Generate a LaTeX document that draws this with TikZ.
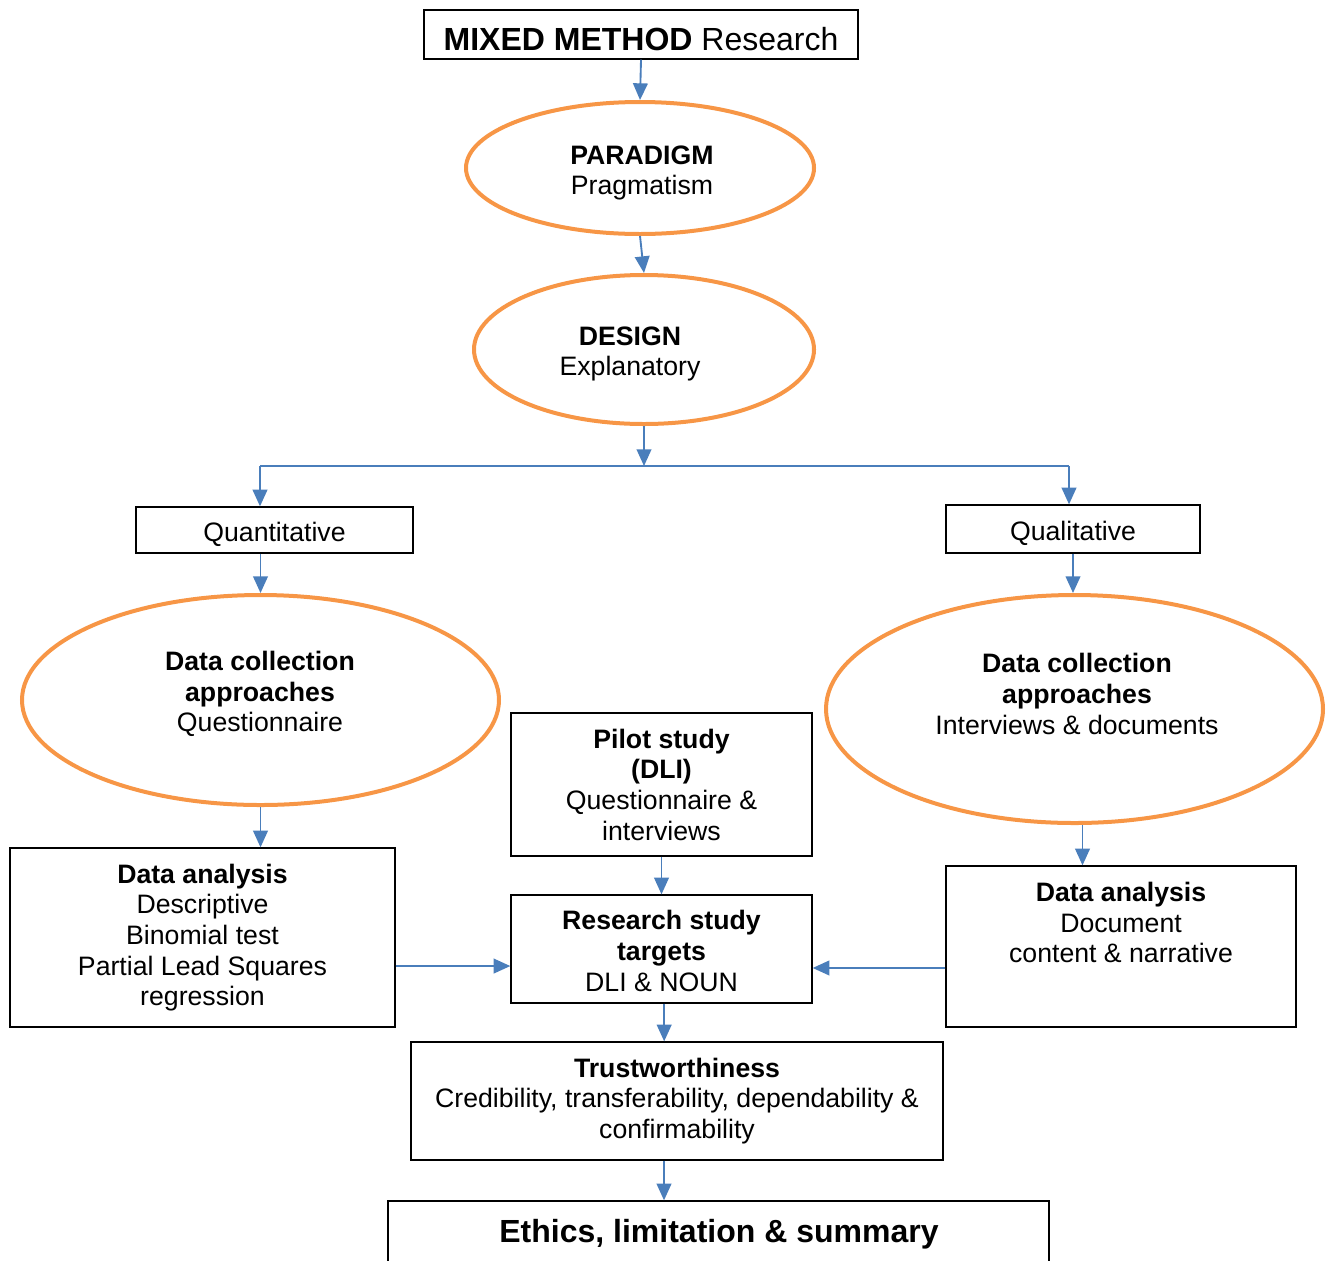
\documentclass[tikz,border=0pt]{standalone}
\usepackage{fontspec}
\setmainfont{Liberation Sans}
\usetikzlibrary{arrows.meta,shapes.geometric}
\definecolor{ovalorange}{HTML}{F79646}
\definecolor{arrblue}{HTML}{4A7EBB}
\newcommand\bodyfont{\fontsize{20}{23}\selectfont}
\newcommand\bigfont{\fontsize{24}{28}\selectfont}
\begin{document}
\begin{tikzpicture}[x=0.75pt,y=-0.75pt,
  box/.style={draw=black, line width=1pt, rectangle, inner sep=0pt, align=center, font=\bodyfont},
  oval/.style={draw=ovalorange, line width=3pt, ellipse, inner sep=0pt},
  txt/.style={align=center, font=\bodyfont, inner sep=0pt},
  arr/.style={draw=arrblue, line width=1.4pt, -{Triangle[length=12.5pt,width=11pt]}},
  branch/.style={draw=arrblue, line width=1.4pt}]
\useasboundingbox (0,0) rectangle (1333,1260);

% top of the flow
\node[box, minimum width=325.5pt, minimum height=36.75pt] (title) at (641,34.5) {};
\node[txt, font=\bigfont] (titleT) at (641,39) {\textbf{MIXED METHOD} Research};
\node[oval, minimum width=261pt, minimum height=99pt] (paradigm) at (640,168) {};
\node[txt] (paradigmT) at (642,173) {\textbf{PARADIGM}\\Pragmatism};
\node[oval, minimum width=255pt, minimum height=111.75pt] (design) at (644,349.5) {};
\node[txt] (designT) at (630,354) {\textbf{DESIGN}\\Explanatory};

% branch points
\coordinate (brL) at (260,466);
\coordinate (brR) at (1069,466);

% two strands
\node[box, minimum width=207.75pt, minimum height=34.5pt] (quant) at (274.5,530) {};
\node[txt] (quantT) at (274.5,534) {Quantitative};
\node[box, minimum width=190.5pt, minimum height=36pt] (qual) at (1073,529) {};
\node[txt] (qualT) at (1073,533) {Qualitative};

\node[oval, minimum width=357.75pt, minimum height=157.5pt] (lell) at (260.5,700) {};
\node[txt] (lellT) at (260,694) {\textbf{Data collection}\\\textbf{approaches}\\Questionnaire};
\node[oval, minimum width=372.75pt, minimum height=171pt] (rell) at (1074.5,709) {};
\node[txt] (rellT) at (1077,694) {\textbf{Data collection}\\\textbf{approaches}\\Interviews \& documents};

\node[box, minimum width=225.75pt, minimum height=107.25pt] (pilot) at (661.5,784.5)
  {\textbf{Pilot study}\\\textbf{(DLI)}\\Questionnaire \&\\interviews};
\node[box, minimum width=225.75pt, minimum height=81pt] (research) at (661.5,949) {};
\node[txt] (researchT) at (661.5,951) {\textbf{Research study}\\\textbf{targets}\\DLI \& NOUN};

\node[box, minimum width=288.75pt, minimum height=134.25pt] (lda) at (202.5,937.5)
  {\textbf{Data analysis}\\Descriptive\\Binomial test\\Partial Lead Squares\\regression};
\node[box, minimum width=262.5pt, minimum height=120.75pt] (rda) at (1121,946.5) {};
\node[txt] (rdaT) at (1121,922.5) {\textbf{Data analysis}\\Document\\content \& narrative};

\node[box, minimum width=399pt, minimum height=88.5pt] (trust) at (677,1101)
  {\textbf{Trustworthiness}\\Credibility, transferability, dependability \&\\confirmability};
\node[box, minimum width=495.75pt, minimum height=75pt] (ethics) at (718.5,1251) {};
\node[txt, font=\bigfont] (ethicsT) at (719,1234) {\textbf{Ethics, limitation \& summary}};

% connectors
\draw[arr] (title.south) -- (paradigm.north);
\draw[arr] (paradigm.south) -- (design.north);
\draw[arr] (design.south) -- (design.south |- brL);
\draw[branch] (brL) -- (brR);
\draw[arr] (brL) -- (brL |- quant.north);
\draw[arr] (brR) -- (brR |- qual.north);
\draw[arr] (quant.south -| lell.north) -- (lell.north);
\draw[arr] (qual.south) -- (qual.south |- rell.north);
\draw[arr] (lell.south) -- (lell.south |- lda.north);
\draw[arr] ([xshift=6pt]rell.south) -- ([xshift=6pt]rell.south |- rda.north);
\draw[arr] (pilot.south) -- (research.north);
\draw[arr] ([yshift=-21.4pt]lda.east) -- ([yshift=-21.4pt]lda.east -| research.west);
\draw[arr] ([yshift=-16.1pt]rda.west) -- ([yshift=-16.1pt]rda.west -| research.east);
\draw[arr] ([xshift=2pt]research.south) -- ([xshift=2pt]research.south |- trust.north);
\draw[arr] ([xshift=-9.75pt]trust.south) -- ([xshift=-9.75pt]trust.south |- ethics.north);
\end{tikzpicture}
\end{document}
